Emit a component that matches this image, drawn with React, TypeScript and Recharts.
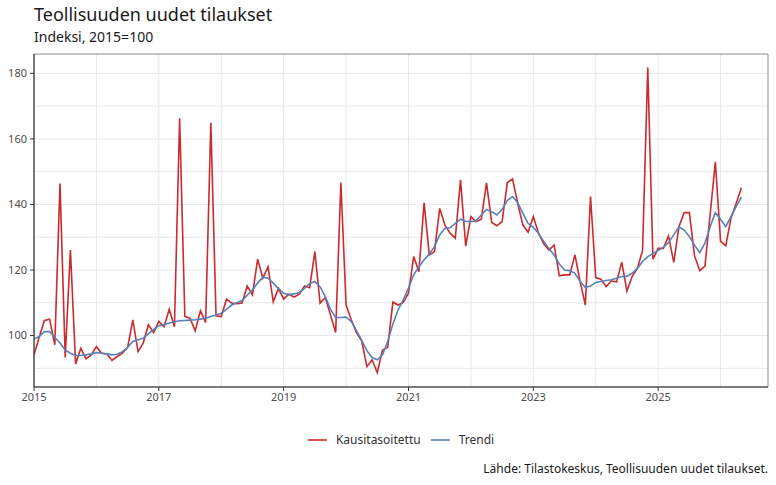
import React from "react";
import { LineChart, Line, XAxis, YAxis, CartesianGrid, ReferenceArea } from "recharts";

// Monthly series starting January 2015 (index 2015 = 100)
const START_YEAR = 2015;

const kausitasoitettu = [
  94.1, 99.5, 104.6, 105.0, 97.2, 146.4, 93.3, 126.1, 91.3, 96.1, 92.9, 94.1,
  96.6, 94.6, 94.4, 92.4, 93.6, 94.6, 96.4, 104.8, 95.1, 97.7, 103.3, 100.9,
  104.3, 102.7, 108.0, 102.7, 166.3, 105.8, 105.3, 101.4, 107.6, 104.0, 164.9, 106.0,
  105.8, 111.1, 109.9, 109.7, 109.9, 115.1, 112.4, 123.3, 117.5, 121.0, 110.3, 114.4,
  111.1, 112.6, 111.7, 112.6, 115.1, 114.6, 125.6, 109.9, 111.6, 106.3, 100.9, 146.7,
  109.3, 104.8, 100.9, 98.4, 90.5, 92.6, 88.7, 95.6, 96.4, 110.2, 109.3, 110.1,
  112.9, 124.1, 119.5, 140.5, 124.6, 125.6, 138.8, 133.7, 131.2, 129.7, 147.5, 127.3,
  136.3, 134.8, 135.5, 146.6, 134.5, 133.5, 134.8, 146.6, 147.8, 140.3, 133.7, 131.5,
  136.3, 131.2, 128.0, 126.1, 127.6, 118.2, 118.5, 118.5, 124.6, 116.5, 109.3, 142.4,
  117.7, 117.2, 114.9, 116.7, 116.3, 122.4, 113.6, 118.0, 120.5, 125.9, 181.8, 123.3,
  126.6, 126.6, 130.4, 122.3, 133.2, 137.5, 137.5, 124.3, 119.8, 121.2, 137.0, 153.0,
  128.7, 127.4, 135.8, 140.3, 145.1,
];

const trendi = [
  98.9, 99.7, 101.2, 101.2, 99.5, 97.7, 95.6, 94.6, 93.9, 93.9, 94.1, 94.4,
  94.8, 94.6, 94.4, 94.1, 94.3, 95.1, 96.4, 98.2, 98.7, 99.2, 100.5, 101.9,
  103.0, 103.3, 103.8, 104.2, 104.5, 104.6, 104.7, 104.8, 105.0, 105.3, 105.8, 106.3,
  106.8, 108.0, 109.3, 110.0, 110.7, 112.3, 113.9, 116.0, 117.8, 117.5, 116.0, 114.3,
  112.9, 112.5, 112.7, 113.1, 114.4, 115.8, 116.5, 114.9, 111.9, 108.0, 105.5, 105.5,
  105.6, 104.3, 101.5, 98.5, 95.4, 93.3, 92.6, 94.1, 98.2, 103.5, 107.8, 110.9,
  114.5, 118.5, 121.0, 123.1, 124.9, 127.1, 130.7, 132.7, 132.9, 134.2, 135.5, 134.8,
  134.8, 135.0, 136.8, 138.5, 137.8, 136.8, 138.5, 141.2, 142.4, 140.5, 137.3, 134.2,
  133.0, 131.2, 128.7, 126.6, 124.6, 121.8, 120.0, 119.8, 119.0, 116.5, 114.7, 115.1,
  116.2, 116.5, 116.8, 117.0, 117.5, 118.0, 118.0, 119.0, 120.5, 122.6, 124.1, 125.0,
  126.0, 126.9, 128.4, 130.7, 133.2, 132.2, 130.2, 127.6, 125.3, 128.2, 133.2, 137.5,
  135.5, 133.2, 136.3, 139.3, 142.2,
];

const xTicks = [2015, 2017, 2019, 2021, 2023, 2025];
const xGrid = [2015, 2016, 2017, 2018, 2019, 2020, 2021, 2022, 2023, 2024, 2025, 2026];
const yTicks = [100, 120, 140, 160, 180];
const yGrid = [90, 100, 110, 120, 130, 140, 150, 160, 170, 180];

const X_DOMAIN: [number, number] = [2015, 2026.76];
const Y_DOMAIN: [number, number] = [84.3, 185.9];

const RED = "#cb2a2e";
const BLUE = "#5582b8";
const FONT = "'Noto Sans', 'Open Sans', sans-serif";

const data = kausitasoitettu.map((v, i) => ({
  t: START_YEAR + i / 12,
  kausi: v,
  trendi: trendi[i],
}));

const tickStyle = { fill: "#4d4d4d", fontSize: 11, fontFamily: FONT };

export default function App() {
  return (
    <div style={{ position: "absolute", left: 0, top: 0, width: 776, height: 485, background: "#fff", fontFamily: FONT }}>
      <div style={{ position: "absolute", left: 34, top: 2, fontSize: 18, color: "#1a1a1a", whiteSpace: "nowrap" }}>
        Teollisuuden uudet tilaukset
      </div>
      <div style={{ position: "absolute", left: 34, top: 27, fontSize: 14, color: "#1a1a1a", whiteSpace: "nowrap" }}>
        Indeksi, 2015=100
      </div>
      <LineChart
        width={776}
        height={485}
        data={data}
        margin={{ top: 54, right: 8, bottom: 78, left: 0 }}
      >
        <CartesianGrid
          stroke="#e8e8e8"
          strokeWidth={1}
          horizontalValues={yGrid}
          verticalValues={xGrid}
        />
        <ReferenceArea
          x1={X_DOMAIN[0]}
          x2={X_DOMAIN[1]}
          y1={Y_DOMAIN[0]}
          y2={Y_DOMAIN[1]}
          fill="none"
          stroke="#8a8a8a"
          strokeWidth={1}
          ifOverflow="visible"
        />
        <XAxis
          dataKey="t"
          type="number"
          domain={X_DOMAIN}
          ticks={xTicks}
          allowDataOverflow
          height={20}
          tickSize={4}
          tickMargin={2}
          tick={tickStyle}
          axisLine={{ stroke: "#333" }}
          tickLine={{ stroke: "#333" }}
          tickFormatter={(v: number) => String(Math.round(v))}
        />
        <YAxis
          type="number"
          domain={Y_DOMAIN}
          ticks={yTicks}
          allowDataOverflow
          width={34}
          tickSize={4}
          tickMargin={3}
          tick={tickStyle}
          axisLine={{ stroke: "#333" }}
          tickLine={{ stroke: "#333" }}
        />
        <Line
          type="linear"
          dataKey="kausi"
          name="Kausitasoitettu"
          stroke={RED}
          strokeWidth={1.6}
          dot={false}
          activeDot={false}
          isAnimationActive={false}
        />
        <Line
          type="linear"
          dataKey="trendi"
          name="Trendi"
          stroke={BLUE}
          strokeWidth={1.6}
          dot={false}
          activeDot={false}
          isAnimationActive={false}
        />
      </LineChart>
      <div style={{ position: "absolute", left: 0, width: 776, top: 431, display: "flex", justifyContent: "center", fontSize: 12, color: "#333" }}>
        <div style={{ display: "flex", alignItems: "center", marginLeft: 26 }}>
          <svg width={19} height={4} style={{ marginRight: 9 }}>
            <line x1={0} y1={2} x2={19} y2={2} stroke={RED} strokeWidth={1.6} />
          </svg>
          <span>Kausitasoitettu</span>
          <svg width={19} height={4} style={{ marginLeft: 10, marginRight: 9 }}>
            <line x1={0} y1={2} x2={19} y2={2} stroke={BLUE} strokeWidth={1.6} />
          </svg>
          <span>Trendi</span>
        </div>
      </div>
      <div style={{ position: "absolute", right: 8, top: 460, fontSize: 12, color: "#1a1a1a", whiteSpace: "nowrap" }}>
        Lähde: Tilastokeskus, Teollisuuden uudet tilaukset.
      </div>
    </div>
  );
}
